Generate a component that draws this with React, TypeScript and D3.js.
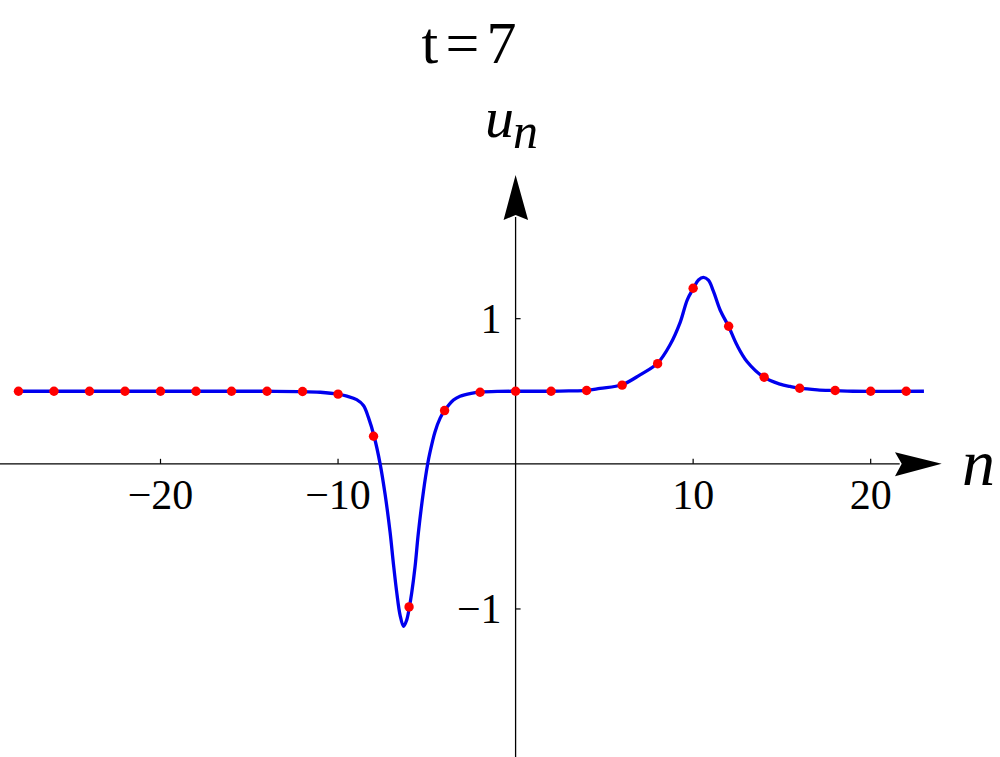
import React from 'react';
import * as d3 from 'd3';

// curve u_n(t=7)
const curveN = [-28, -20, -14, -12, -11, -10, -9.5, -8.95, -8.57, -8.29, -7.97, -7.63, -7.35, -7.07, -6.88, -6.69, -6.51, -6.31, -6.13, -5.98, -5.85, -5.66, -5.48, -5.19, -4.95, -4.82, -4.54, -4.25, -4, -3.5, -3.13, -2.5, -2, -1, 0, 2, 3, 4, 4.76, 6, 7.01, 8, 8.7, 9.27, 9.67, 10.02, 10.3, 10.58, 10.86, 11.14, 11.52, 12, 12.46, 13.03, 14, 14.9, 15.46, 16, 17, 18, 19, 23];
const curveU = [0.5, 0.5, 0.5, 0.498, 0.493, 0.48, 0.466, 0.442, 0.402, 0.32, 0.19, 0, -0.21, -0.47, -0.69, -0.89, -1.04, -1.12, -1.075, -0.986, -0.889, -0.706, -0.48, -0.19, 0, 0.08, 0.22, 0.315, 0.367, 0.44, 0.466, 0.486, 0.494, 0.499, 0.5, 0.5, 0.502, 0.506, 0.52, 0.545, 0.613, 0.694, 0.82, 0.975, 1.13, 1.21, 1.267, 1.285, 1.265, 1.19, 1.06, 0.946, 0.82, 0.705, 0.595, 0.549, 0.533, 0.521, 0.51, 0.505, 0.5, 0.5];

// red lattice points
const dotN = [-28, -26, -24, -22, -20, -18, -16, -14, -12, -10, -8, -6, -4, -2, 0, 2, 4, 6, 8, 10, 12, 14, 16, 18, 20, 22];
const dotU = [0.5, 0.5, 0.5, 0.5, 0.5, 0.5, 0.5, 0.5, 0.498, 0.48, 0.19, -0.986, 0.367, 0.493, 0.5, 0.5, 0.505, 0.542, 0.69, 1.21, 0.948, 0.597, 0.521, 0.505, 0.5, 0.5];

const xTicks = [-20, -10, 10, 20];
const yTicks = [-1, 1];

const W = 1000, H = 757;
const serif = '"Liberation Serif", "DejaVu Serif", serif';

export default function App() {
  const x = d3.scaleLinear().domain([-29.04, 24]).range([0, 941.7]);
  const y = d3.scaleLinear().domain([-2.02, 1.99]).range([757, 175]);
  const x0 = x(0), y0 = y(0);

  const pts = curveN.map((n, i) => [n, curveU[i]] as [number, number]);
  const line = d3.line<[number, number]>()
    .x(d => x(d[0]))
    .y(d => y(d[1]))
    .curve(d3.curveCatmullRom.alpha(0.5));

  const fmt = (v: number) => (v < 0 ? '\u2212' + Math.abs(v) : String(v));

  // arrow heads
  const xTip = x(24);
  const xArrow = `M${xTip},${y0} L${xTip - 46.7},${y0 - 11.6} L${xTip - 40},${y0} L${xTip - 46.7},${y0 + 12.4} Z`;
  const yTip = y(1.99);
  const yArrow = `M${x0},${yTip} L${x0 - 12},${yTip + 45} L${x0},${yTip + 40} L${x0 + 12.5},${yTip + 45} Z`;

  return (
    <div style={{ position: 'absolute', left: 0, top: 0 }}>
      <svg width={W} height={H} style={{ display: 'block', background: '#fff' }}>
        <text x={469} y={62.7} textAnchor="middle" fontFamily={serif} fontSize={60}
          textLength={95} lengthAdjust="spacing">t=7</text>

        {/* axes */}
        <line x1={0} x2={xTip - 42} y1={y0} y2={y0} stroke="#000" strokeWidth={1.3} />
        <path d={xArrow} fill="#000" />
        <line x1={x0} x2={x0} y1={H} y2={yTip + 42} stroke="#000" strokeWidth={1.3} />
        <path d={yArrow} fill="#000" />

        {xTicks.map(t => (
          <g key={'x' + t}>
            <line x1={x(t)} x2={x(t)} y1={y0} y2={y0 - 5} stroke="#000" strokeWidth={1.2} />
            <text x={x(t)} y={y0 + 45} textAnchor="middle" fontFamily={serif} fontSize={42}>{fmt(t)}</text>
          </g>
        ))}
        {yTicks.map(t => (
          <g key={'y' + t}>
            <line x1={x0} x2={x0 + 5} y1={y(t)} y2={y(t)} stroke="#000" strokeWidth={1.2} />
            <text x={x0 - 14} y={y(t) + 14} textAnchor="end" fontFamily={serif} fontSize={42}>{fmt(t)}</text>
          </g>
        ))}

        {/* axis labels */}
        <text x={962} y={485} fontFamily={serif} fontStyle="italic" fontSize={66}>n</text>
        <text x={485} y={136.7} fontFamily={serif} fontStyle="italic" fontSize={58}>u</text>
        <text x={513} y={148.3} fontFamily={serif} fontStyle="italic" fontSize={50}>n</text>

        <path d={line(pts) || ''} fill="none" stroke="#0000ee" strokeWidth={3.3} />
        {dotN.map((n, i) => (
          <circle key={n} cx={x(n)} cy={y(dotU[i])} r={4.7} fill="#ff0000" />
        ))}
      </svg>
    </div>
  );
}
